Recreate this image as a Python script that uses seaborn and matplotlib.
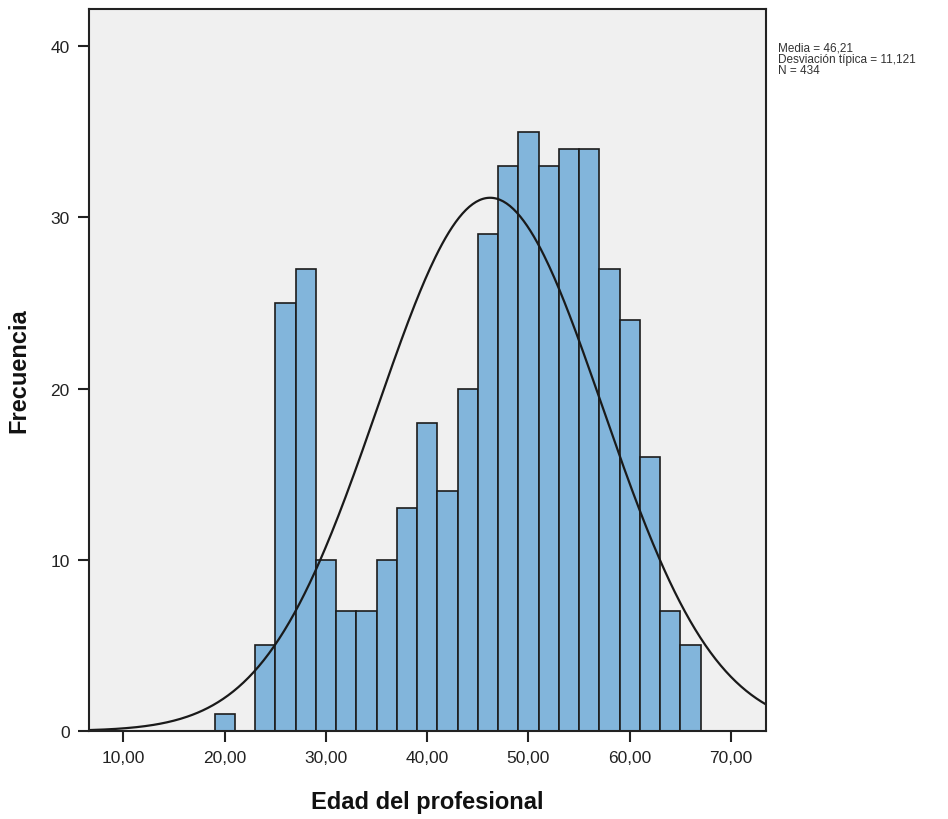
import matplotlib
matplotlib.use("Agg")
import matplotlib.pyplot as plt
import seaborn as sns
import numpy as np
import pandas as pd

# histogram bins (width 2) and counts
bin_edges = list(range(19, 69, 2))
counts = [1, 0, 5, 25, 27, 10, 7, 7, 10, 13, 18, 14, 20,
          29, 33, 35, 33, 34, 34, 27, 24, 16, 7, 5]
media = 46.21
desv = 11.121
n_total = 434
x_ticks = [10, 20, 30, 40, 50, 60, 70]
x_tick_labels = ["10,00", "20,00", "30,00", "40,00", "50,00", "60,00", "70,00"]
y_ticks = [0, 10, 20, 30, 40]

mids = [e + 1 for e in bin_edges[:-1]]
data = pd.DataFrame({"edad": mids, "n": counts})

sns.set_style("ticks")
plt.rcParams["font.family"] = ["Liberation Sans", "DejaVu Sans"]

fig = plt.figure(figsize=(9.48, 8.2), dpi=100)
ax = fig.add_axes([0.0939, 0.1073, 0.808 - 0.0939, 0.9878 - 0.1073])
ax.set_facecolor("#F0F0F0")

sns.histplot(data, x="edad", weights="n", bins=bin_edges, ax=ax,
             color="#82B5DB", edgecolor="#1C1C1C", linewidth=1.2, alpha=1)

# normal curve scaled to counts
xs = np.linspace(6.6, 73.5, 400)
ys = n_total * 2 / (desv * np.sqrt(2 * np.pi)) * np.exp(-0.5 * ((xs - media) / desv) ** 2)
sns.lineplot(x=xs, y=ys, ax=ax, color="#1A1A1A", linewidth=1.6)

ax.set_xlim(6.61, 73.45)
ax.set_ylim(0, 42.16)
ax.set_xticks(x_ticks, x_tick_labels, fontsize=12.5, color="#222222")
ax.set_yticks(y_ticks, [str(t) for t in y_ticks], fontsize=12.5, color="#222222")
ax.tick_params(direction="out", length=8, width=1.5, color="#222222", pad=6)
for s in ax.spines.values():
    s.set_color("#222222")
    s.set_linewidth(1.5)
    s.set_visible(True)

ax.set_xlabel("Edad del profesional", fontsize=17, fontweight="bold",
              labelpad=18, color="#111111")
ax.set_ylabel("Frecuencia", fontsize=17, fontweight="bold",
              labelpad=14, color="#111111")

fig.text(0.8207, 0.948,
         "Media = 46,21\nDesviación típica = 11,121\nN = 434",
         fontsize=8.5, color="#333333", va="top", linespacing=0.92)

fig.savefig("out.png", dpi=100)
